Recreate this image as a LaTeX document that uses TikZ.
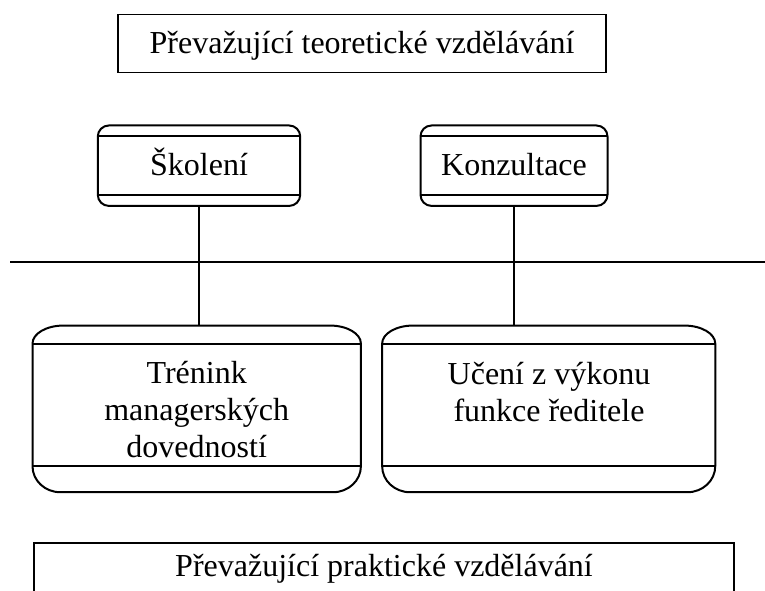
\documentclass[tikz,border=0pt]{standalone}
\usepackage{fontspec}
\setmainfont{Liberation Serif}
\usetikzlibrary{calc}
\tikzset{
  plainbox/.style={draw, line width=1.9pt, inner sep=0pt, text height=24pt, text depth=4pt},
  bandbox/.style={inner sep=0pt, text height=24pt, text depth=4pt},
  bandline/.style={line width=2pt, line join=round},
  link/.style={line width=1.8pt},
  bodytext/.style={anchor=base, align=center, inner sep=0pt},
}
% outline of a box with curved ends and a band line under the top and above the bottom
% #1 node name, #2/#3 top corner radii (x/y), #4/#5 bottom corner radii (x/y)
\newcommand{\bandframe}[5]{%
  \draw[bandline] ([yshift=-#3pt]#1.north west) -- ([yshift=#5pt]#1.south west)
    arc[start angle=180,end angle=270,x radius=#4pt,y radius=#5pt]
    -- ([xshift=-#4pt]#1.south east)
    arc[start angle=270,end angle=360,x radius=#4pt,y radius=#5pt]
    -- ([yshift=-#3pt]#1.north east)
    arc[start angle=0,end angle=90,x radius=#2pt,y radius=#3pt]
    -- ([xshift=#2pt]#1.north west)
    arc[start angle=90,end angle=180,x radius=#2pt,y radius=#3pt] -- cycle;
  \draw[bandline] ([yshift=-#3pt]#1.north west) -- ([yshift=-#3pt]#1.north east);
  \draw[bandline] ([yshift=#5pt]#1.south west) -- ([yshift=#5pt]#1.south east);
}
\begin{document}
\begin{tikzpicture}[x=1pt,y=1pt,font=\fontsize{32}{37}\selectfont]
\useasboundingbox (0,0) rectangle (765,591);

% top label
\node[plainbox, minimum width=488pt, minimum height=58pt] (theory) at (362,547.5)
  {Převažující teoretické vzdělávání};

% upper pair
\node[bandbox, minimum width=202pt, minimum height=80pt] (skoleni) at (199,425.3) {Školení};
\bandframe{skoleni}{11}{11}{11}{11}
\node[bandbox, minimum width=186.6pt, minimum height=80pt] (konzultace) at (514,425.3) {Konzultace};
\bandframe{konzultace}{11}{11}{11}{11}

% dividing axis
\coordinate (axisL) at (10,329);
\coordinate (axisR) at (765,329);
\draw[link] (axisL) -- (axisR);

% lower pair (text anchored at the baseline of its last line)
\node[bandbox, minimum width=328pt, minimum height=166.3pt] (trenink) at (196.7,182.1) {};
\bandframe{trenink}{31}{18}{28}{26}
\node[bodytext] (trenink text) at (196.7,133) {Trénink\\managerských\\dovedností};
\node[bandbox, minimum width=332.7pt, minimum height=166.3pt] (uceni) at (548.7,182.1) {};
\bandframe{uceni}{31}{18}{28}{26}
\node[bodytext] (uceni text) at (549,169.3) {Učení z výkonu\\funkce ředitele};

% connectors through the axis
\draw[link] (skoleni.south) -- (skoleni.south |- trenink.north);
\draw[link] (konzultace.south) -- (konzultace.south |- uceni.north);

% bottom label, open at the lower edge
\node[bandbox, minimum width=700pt, minimum height=48pt] (practice) at (384,24)
  {Převažující praktické vzdělávání};
\draw[link] (practice.south west) -- (practice.north west) -- (practice.north east) -- (practice.south east);
\end{tikzpicture}
\end{document}
